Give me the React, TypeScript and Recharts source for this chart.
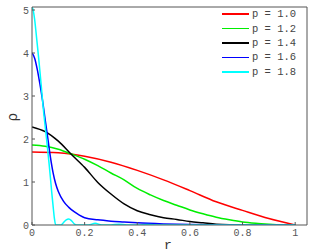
import React from 'react';
import { LineChart, Line, XAxis, YAxis, Legend } from 'recharts';

const xTicks = [0, 0.2, 0.4, 0.6, 0.8, 1];
const yTicks = [0, 1, 2, 3, 4, 5];

const rRed = [0, 0.1, 0.2, 0.3, 0.4, 0.5, 0.6, 0.7, 0.8, 0.9, 1.0];
const rhoRed = [1.7, 1.68, 1.6, 1.46, 1.27, 1.05, 0.8, 0.54, 0.34, 0.15, 0];

const rGreen = [0, 0.05, 0.1, 0.15, 0.2, 0.25, 0.3, 0.35, 0.4, 0.45, 0.5, 0.55, 0.6, 0.65, 0.7, 0.75, 0.8, 0.85, 0.9, 0.95, 1.0];
const rhoGreen = [1.86, 1.83, 1.76, 1.65, 1.53, 1.38, 1.21, 1.05, 0.85, 0.7, 0.57, 0.46, 0.35, 0.26, 0.18, 0.12, 0.07, 0.04, 0.02, 0.005, 0];

const rBlack = [0, 0.05, 0.1, 0.15, 0.2, 0.25, 0.3, 0.35, 0.4, 0.45, 0.5, 0.55, 0.6, 0.65, 0.7, 0.75, 0.8, 1.0];
const rhoBlack = [2.28, 2.17, 1.95, 1.64, 1.34, 0.99, 0.72, 0.49, 0.33, 0.24, 0.17, 0.13, 0.08, 0.05, 0.02, 0.005, 0, 0];

const rBlue = [0, 0.01, 0.02, 0.03, 0.04, 0.05, 0.06, 0.07, 0.08, 0.09, 0.1, 0.12, 0.14, 0.16, 0.18, 0.2, 0.25, 0.3, 0.35, 0.4, 0.5, 0.6, 0.7, 0.8, 0.9, 1.0];
const rhoBlue = [4.0, 3.88, 3.62, 3.28, 2.9, 2.45, 2.02, 1.58, 1.22, 0.96, 0.78, 0.55, 0.41, 0.31, 0.23, 0.17, 0.12, 0.09, 0.07, 0.05, 0.025, 0.01, 0.005, 0, 0, 0];

const rCyan = [0, 0.005, 0.01, 0.015, 0.02, 0.025, 0.03, 0.035, 0.04, 0.045, 0.05, 0.055, 0.06, 0.065, 0.07, 0.075, 0.08, 0.085, 0.09, 0.1, 0.11, 0.12, 0.13, 0.14, 0.15, 0.16, 0.17, 0.2, 0.215, 0.24, 0.265, 0.3, 0.33, 0.36, 0.4, 0.44, 0.48, 0.6, 0.8, 1.0];
const rhoCyan = [5.07, 4.98, 4.78, 4.5, 4.2, 3.9, 3.58, 3.25, 2.9, 2.58, 2.3, 2.02, 1.72, 1.42, 1.1, 0.76, 0.45, 0.16, 0, 0, 0, 0.06, 0.12, 0.14, 0.1, 0.03, 0, 0, 0, 0.04, 0, 0, 0.02, 0, 0, 0.01, 0, 0, 0, 0];

const series = [
  { name: 'p = 1.0', color: '#ff0000', r: rRed, rho: rhoRed },
  { name: 'p = 1.2', color: '#00ee00', r: rGreen, rho: rhoGreen },
  { name: 'p = 1.4', color: '#000000', r: rBlack, rho: rhoBlack },
  { name: 'p = 1.6', color: '#0000ff', r: rBlue, rho: rhoBlue },
  { name: 'p = 1.8', color: '#00ffff', r: rCyan, rho: rhoCyan },
];

const FONT = 'Liberation Mono, Courier New, monospace';
const AXIS = '#555';
const X_DOMAIN = [0, 1.045];
const Y_DOMAIN = [0, 5.07];

const tickStyle = { fill: '#555', fontSize: 10, fontFamily: FONT };

function LegendBox({ payload }: any) {
  return (
    <div>
      {(payload || []).map((item: any) => (
        <div key={item.value} style={{ display: 'flex', alignItems: 'center', height: 14.4 }}>
          <span style={{ width: 27, height: 1.5, background: item.color, marginRight: 3 }} />
          <span style={{ fontFamily: FONT, fontSize: 10.5, color: '#444', whiteSpace: 'pre' }}>
            {item.value}
          </span>
        </div>
      ))}
    </div>
  );
}

export default function App() {
  return (
    <div style={{ position: 'absolute', left: 0, top: 0, width: 313, height: 252, background: '#fff' }}>
      <LineChart width={313} height={252} margin={{ top: 6, right: 5, left: 0, bottom: 0 }}>
        <XAxis
          dataKey="r"
          type="number"
          domain={X_DOMAIN}
          ticks={xTicks}
          allowDataOverflow
          height={27}
          tick={tickStyle}
          tickSize={-3}
          tickMargin={7}
          stroke={AXIS}
          interval={0}
        />
        {/* top and right axes only close the box, with inward ticks */}
        <XAxis
          xAxisId="top"
          dataKey="r"
          orientation="top"
          type="number"
          domain={X_DOMAIN}
          ticks={xTicks}
          allowDataOverflow
          height={1}
          tick={false}
          tickSize={-3}
          stroke={AXIS}
          interval={0}
        />
        <YAxis
          type="number"
          domain={Y_DOMAIN}
          ticks={yTicks}
          allowDataOverflow
          width={32}
          tick={tickStyle}
          tickSize={-3}
          tickMargin={6}
          stroke={AXIS}
          interval={0}
        />
        <YAxis
          yAxisId="right"
          orientation="right"
          type="number"
          domain={Y_DOMAIN}
          ticks={yTicks}
          allowDataOverflow
          width={1}
          tick={false}
          tickSize={-3}
          stroke={AXIS}
          interval={0}
        />
        <Legend
          verticalAlign="middle"
          align="center"
          layout="horizontal"
          content={<LegendBox />}
          wrapperStyle={{ top: 7, left: 222, right: 'auto', width: 85 }}
        />
        {series.map((s) => (
          <Line
            key={s.name}
            name={s.name}
            data={s.r.map((r, i) => ({ r, rho: s.rho[i] }))}
            dataKey="rho"
            type="monotone"
            stroke={s.color}
            strokeWidth={1.5}
            dot={false}
            isAnimationActive={false}
          />
        ))}
        <text x={168} y={249} textAnchor="middle" fontFamily={FONT} fontSize={13} fill="#333">
          r
        </text>
        <text
          x={13}
          y={117}
          textAnchor="middle"
          dominantBaseline="central"
          transform="rotate(-90 13 117)"
          fontFamily={FONT}
          fontSize={14}
          fill="#333"
        >
          ρ
        </text>
      </LineChart>
    </div>
  );
}
